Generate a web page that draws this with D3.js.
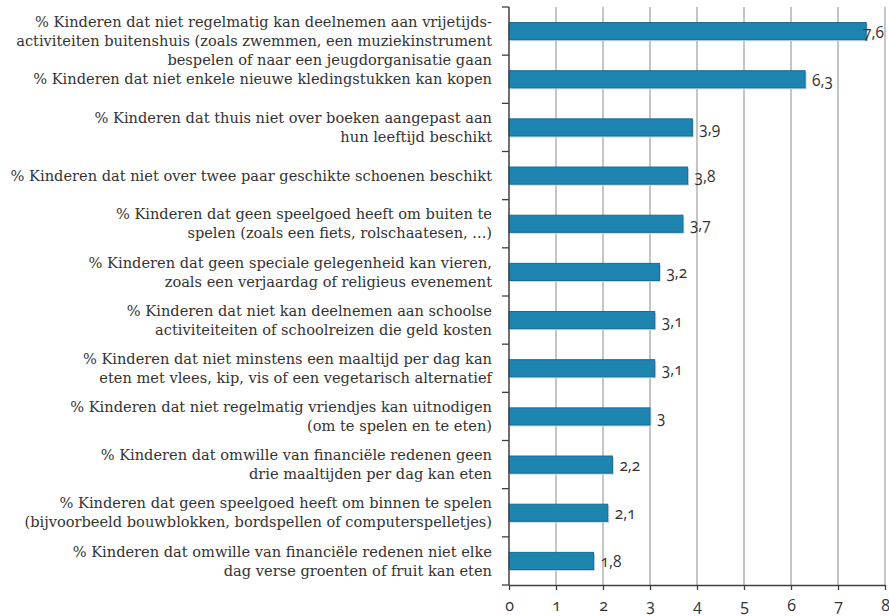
<!DOCTYPE html>
<html>
<head>
<meta charset="utf-8">
<script src="https://d3js.org/d3.v7.min.js"></script>
<style>
    body { margin: 0; background: #fff; }
    .cat_label { font-family: "DejaVu Serif", serif; font-size: 14.6px; fill: #333; }
    .value_label, .x_axis text { font-family: "Open Sans", sans-serif; font-variant-numeric: oldstyle-nums; fill: #333; }
</style>
</head>
<body>
<svg id="SVG_CONTAINER"></svg>
<script>
window.onload = function(){
    setup();
};

const MARGIN = {
    "LEFT":509,
    "RIGHT":4,
    "TOP":7,
    "BOTTOM":31,
};

//dimension of our workspace
const   width  = 889,
    height = 616;

// categories, one entry per line of the label
const categories = [
    ["% Kinderen dat niet regelmatig kan deelnemen aan vrijetijds-", "activiteiten buitenshuis (zoals zwemmen, een muziekinstrument", "bespelen of naar een jeugdorganisatie gaan"],
    ["% Kinderen dat niet enkele nieuwe kledingstukken kan kopen"],
    ["% Kinderen dat thuis niet over boeken aangepast aan", "hun leeftijd beschikt"],
    ["% Kinderen dat niet over twee paar geschikte schoenen beschikt"],
    ["% Kinderen dat geen speelgoed heeft om buiten te", "spelen (zoals een fiets, rolschaatesen, ...)"],
    ["% Kinderen dat geen speciale gelegenheid kan vieren,", "zoals een verjaardag of religieus evenement"],
    ["% Kinderen dat niet kan deelnemen aan schoolse", "activiteiteiten of schoolreizen die geld kosten"],
    ["% Kinderen dat niet minstens een maaltijd per dag kan", "eten met vlees, kip, vis of een vegetarisch alternatief"],
    ["% Kinderen dat niet regelmatig vriendjes kan uitnodigen", "(om te spelen en te eten)"],
    ["% Kinderen dat omwille van financiële redenen geen", "drie maaltijden per dag kan eten"],
    ["% Kinderen dat geen speelgoed heeft om binnen te spelen", "(bijvoorbeeld bouwblokken, bordspellen of computerspelletjes)"],
    ["% Kinderen dat omwille van financiële redenen niet elke", "dag verse groenten of fruit kan eten"]
];

const values = [7.6, 6.3, 3.9, 3.8, 3.7, 3.2, 3.1, 3.1, 3, 2.2, 2.1, 1.8];

const xTicks = [0, 1, 2, 3, 4, 5, 6, 7, 8];


setup = function () {

    let SVG = d3.select("#SVG_CONTAINER")
        .attr("width", width)
        .attr("height", height);

    barChart(SVG);
};


barChart = function (svg)
{
    //** SETUP *****************************************
    let ids = d3.range(categories.length);

    let chart = svg.append("g")
        .attr("class", "barChart");

    //** SCALES *****************************************
    let xScale = d3.scaleLinear()
        .domain([0, 8])
        .range([MARGIN.LEFT, width - MARGIN.RIGHT]);

    let yScale = d3.scaleBand()
        .domain(ids)
        .range([MARGIN.TOP, height - MARGIN.BOTTOM])
        .paddingInner(0.645)
        .paddingOuter(0.3225);

    let step = yScale.step();
    let bottom = height - MARGIN.BOTTOM;

    //** GRIDLINES *****************************************
    chart.append("g")
        .attr("class", "grid")
        .selectAll("line")
        .data(xTicks.slice(1))
        .enter()
        .append("line")
        .attr("x1", d => xScale(d))
        .attr("x2", d => xScale(d))
        .attr("y1", MARGIN.TOP)
        .attr("y2", bottom)
        .attr("stroke", "#a6a6a6")
        .attr("stroke-width", 1.3);

    //** BARS *****************************************
    let bars = chart.append("g")
        .attr("class", "bars");

    // light shadow under each bar
    bars.selectAll(".shadow")
        .data(ids)
        .enter()
        .append("rect")
        .attr("class", "shadow")
        .attr("x", xScale(0) + 1.5)
        .attr("y", d => yScale(d) + 1.5)
        .attr("width", d => xScale(values[d]) - xScale(0))
        .attr("height", yScale.bandwidth())
        .attr("fill", "#c3d6e2");

    bars.selectAll(".bar")
        .data(ids)
        .enter()
        .append("rect")
        .attr("class", "bar")
        .attr("x", xScale(0))
        .attr("y", d => yScale(d))
        .attr("width", d => xScale(values[d]) - xScale(0))
        .attr("height", yScale.bandwidth())
        .attr("fill", "#1e85b1")
        .attr("stroke", "#166b92")
        .attr("stroke-width", 1);

    //value labels, kept inside the plot when the bar is too long
    bars.selectAll(".value_label")
        .data(ids)
        .enter()
        .append("text")
        .attr("class", "value_label")
        .attr("x", d => Math.min(xScale(values[d]) + 7, xScale(8) - 22))
        .attr("y", d => yScale(d) + yScale.bandwidth() / 2 + 1)
        .attr("dy", "0.35em")
        .style("font-size", "15.5px")
        .text(d => String(values[d]).replace(".", ","));

    //** CREATE AXIS *****************************************
    let xAxis = d3.axisBottom()
        .scale(xScale)
        .tickValues(xTicks)
        .tickSize(5)
        .tickSizeOuter(0)
        .tickFormat(d3.format("d"));

    let xG = chart.append("g")
        .attr("class", "x_axis")
        .attr("transform", "translate(0," + bottom + ")")
        .call(xAxis);
    xG.select(".domain").attr("stroke", "#404040").attr("stroke-width", 1.5);
    xG.selectAll(".tick line").attr("stroke", "#404040").attr("stroke-width", 1.3);
    xG.selectAll("text")
        .attr("y", 15)
        .style("font-size", "16px");

    // y axis: plain line with ticks on the band boundaries
    let yG = chart.append("g")
        .attr("class", "y_axis");
    yG.append("line")
        .attr("x1", xScale(0))
        .attr("x2", xScale(0))
        .attr("y1", MARGIN.TOP)
        .attr("y2", bottom)
        .attr("stroke", "#404040")
        .attr("stroke-width", 1.5);
    yG.selectAll(".ytick")
        .data(d3.range(categories.length + 1))
        .enter()
        .append("line")
        .attr("class", "ytick")
        .attr("x1", xScale(0) - 7)
        .attr("x2", xScale(0))
        .attr("y1", d => MARGIN.TOP + d * step)
        .attr("y2", d => MARGIN.TOP + d * step)
        .attr("stroke", "#404040")
        .attr("stroke-width", 1.3);

    //** CATEGORY LABELS *****************************************
    let lineH = 19;
    let labels = chart.append("g")
        .attr("class", "labels");

    ids.forEach(function (i)
    {
        let lines = categories[i];
        let mid = MARGIN.TOP + (i + 0.5) * step;
        // the three-line label hangs down into the next band
        if (lines.length > 2)
            mid += lineH / 2;
        let y0 = mid - (lines.length - 1) * lineH / 2;

        let t = labels.append("text")
            .attr("class", "cat_label")
            .attr("text-anchor", "end");
        lines.forEach(function (l, k)
        {
            t.append("tspan")
                .attr("x", MARGIN.LEFT - 17)
                .attr("y", y0 + k * lineH)
                .attr("dy", "0.35em")
                .text(l);
        });
    });
};
</script>
</body>
</html>
